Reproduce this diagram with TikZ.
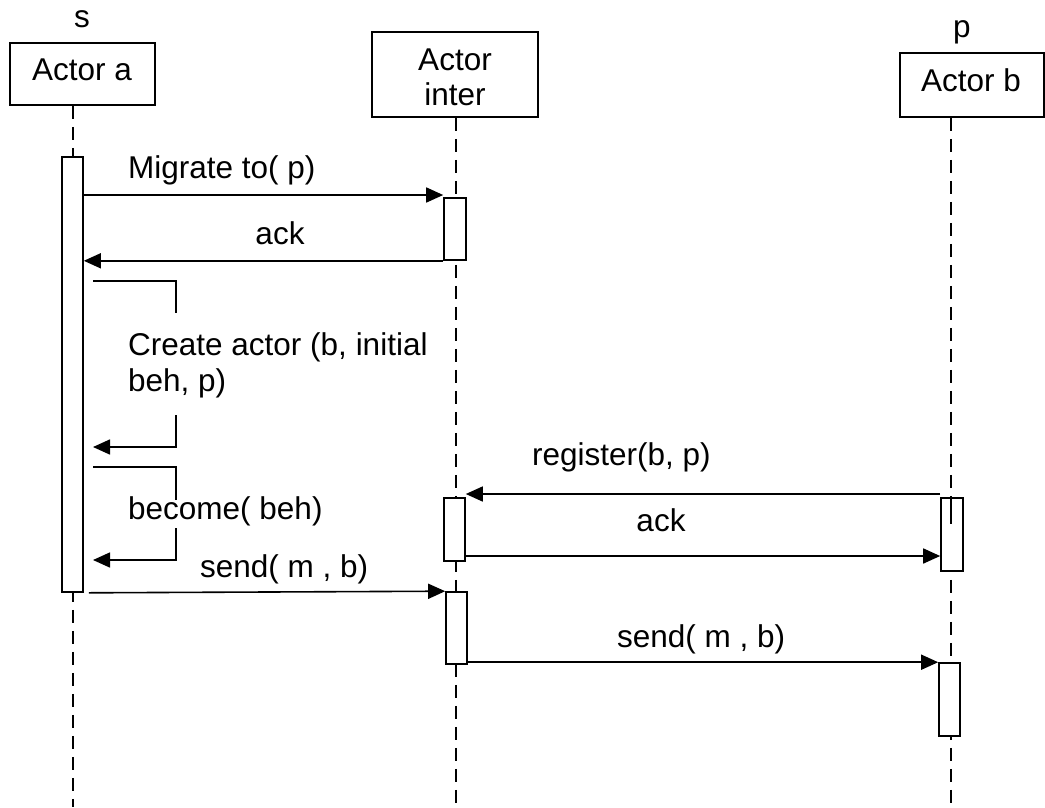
\documentclass[tikz,border=0pt]{standalone}
\usepackage{fontspec}
\setmainfont{Liberation Sans}
\usetikzlibrary{arrows.meta,calc}

\tikzset{
  base/.style={line width=1.6pt},
  actorbox/.style={base, draw, rectangle, inner sep=0pt, align=center},
  lifeline/.style={base, dash pattern=on 13pt off 8pt},
  act/.style={base, draw, fill=white, rectangle, inner sep=0pt, minimum width=21pt},
  msg/.style={base, -{Triangle[length=17pt,width=15pt]}},
  plain/.style={base},
  lbl/.style={inner sep=0pt, anchor=base west},
  lblc/.style={inner sep=0pt, anchor=base},
}

\begin{document}
\begin{tikzpicture}[x=1pt,y=-1pt,font=\fontsize{31.5}{35}\selectfont]
\useasboundingbox (0,0) rectangle (1045,807);

% actors
\node[actorbox, minimum width=145pt, minimum height=62pt] (A) at (82.5,74) {};
\node[lblc] (Atxt) at (82,80) {Actor a};
\node[lblc] (s) at (82,27) {s};

\node[actorbox, minimum width=166pt, minimum height=85pt] (I) at (455,74.5) {};
\node[lblc] (Itxt1) at (455,70) {Actor};
\node[lblc] (Itxt2) at (455,105) {inter};

\node[actorbox, minimum width=144pt, minimum height=64pt] (B) at (972,85) {};
\node[lblc] (Btxt) at (971,91) {Actor b};
\node[lblc] (p) at (962,37) {p};

% lifeline ends
\coordinate (Aend) at (73,807);
\coordinate (Iend) at (456,807);
\coordinate (Bend) at (951,807);

\draw[lifeline] (A.south -| Aend) -- (Aend);
\draw[lifeline] (I.south -| Iend) -- (Iend);
\draw[lifeline] (B.south -| Bend) -- (Bend);

% activations
\node[act, minimum height=435pt] (aA) at (72.5,374.5) {};
\node[act, minimum width=22pt, minimum height=62pt] (i1) at (455,229) {};
\node[act, minimum height=63pt] (i2) at (454.5,529.5) {};
\node[act, minimum height=72pt] (i3) at (456.5,628) {};
\node[act, minimum width=22pt, minimum height=73pt] (b1) at (952,534.5) {};
\node[act, minimum height=73pt] (b2) at (949.5,699.5) {};
% a piece of the lifeline seen through the first activation of actor b
\draw[base] (b1.north -| Bend) -- ($(b1.north -| Bend)+(0,27)$);

% Migrate / ack
\draw[msg] (aA.east |- 0,195) -- (i1.west |- 0,195);
\node[lbl] (mig) at (128,178) {Migrate to( p)};
\draw[msg] (i1.south west) -- (aA.east |- i1.south);
\node[lblc] (ack1) at (280,244) {ack};

% self call: create actor
\coordinate (c1a) at (93,281);
\coordinate (c1b) at (176,281);
\coordinate (c1c) at (176,313);
\coordinate (c1d) at (176,415);
\coordinate (c1e) at (176,447);
\coordinate (c1f) at (93,447);
\draw[plain] (c1a) -- (c1b) -- (c1c);
\draw[msg] (c1d) -- (c1e) -- (c1f);
\node[lbl] (cr1) at (128,355) {Create actor (b, initial};
\node[lbl] (cr2) at (128,391) {beh, p)};

% self call: become
\coordinate (c2a) at (93,467);
\coordinate (c2b) at (176,467);
\coordinate (c2c) at (176,500);
\coordinate (c2d) at (176,528);
\coordinate (c2e) at (176,560);
\coordinate (c2f) at (93,560);
\draw[plain] (c2a) -- (c2b) -- (c2c);
\draw[msg] (c2d) -- (c2e) -- (c2f);
\node[lbl] (bec) at (128,519) {become( beh)};

% register / ack
\draw[msg] (b1.west |- 0,494) -- (i2.east |- 0,494);
\node[lbl] (reg) at (532,465) {register(b, p)};
\draw[msg] (i2.east |- 0,556) -- (b1.west |- 0,556);
\node[lblc] (ack2) at (661,531) {ack};

% send to inter, then to b
\draw[msg] ($(aA.south east)+(5,0)$) -- (i3.north west);
\node[lbl] (snd1) at (200,577) {send( m , b)};
\draw[msg] (i3.east |- b2.north) -- (b2.north west);
\node[lbl] (snd2) at (617,647) {send( m , b)};
\end{tikzpicture}
\end{document}
